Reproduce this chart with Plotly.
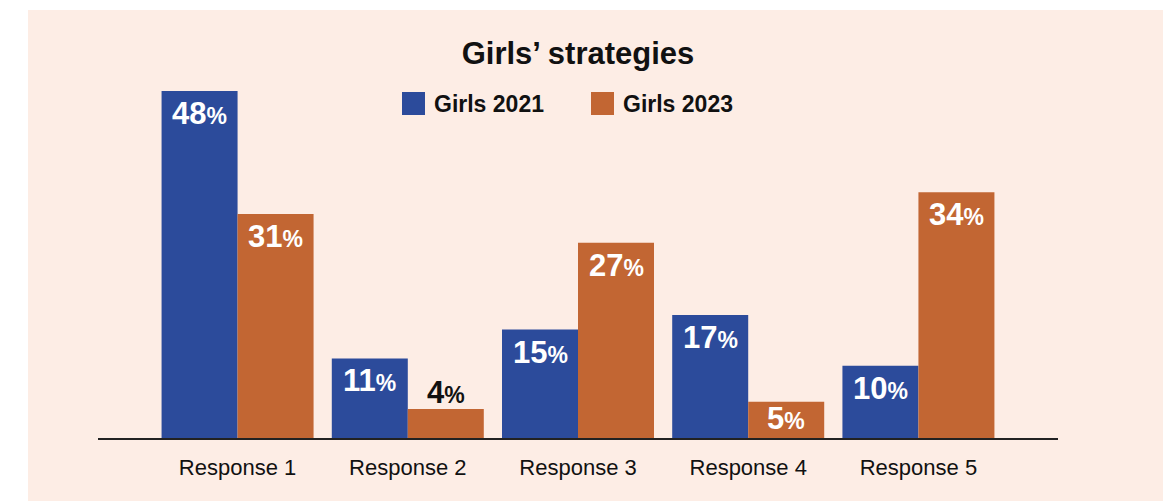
import plotly.graph_objects as go

categories = ["Response 1", "Response 2", "Response 3", "Response 4", "Response 5"]
girls_2021 = [48, 11, 15, 17, 10]
girls_2023 = [31, 4, 27, 5, 34]
series_names = ["Girls 2021", "Girls 2023"]
title_text = "Girls’ strategies"

BLUE = "#2c4b9b"
ORANGE = "#c26633"
PEACH = "#fdede5"
FONT = "Liberation Sans, Arial"

OFF = 8  # page body margin
W, H = 1172 - OFF, 501 - OFF
ML, MR, MT, MB = 98 - OFF, 114, 91 - OFF, 63
XR = [-0.82, 4.82]
YMAX = 48
BARGAP = 0.107
plot_w = W - ML - MR
ph = H - MT - MB
cat_px = plot_w / (XR[1] - XR[0])
bar_px = cat_px * (1 - BARGAP) / 2
unit_px = ph / YMAX


def px_x(px):
    return (px - OFF - ML) / plot_w


def px_y(py):
    return (H - MB - (py - OFF)) / ph


fig = go.Figure()
for name, vals, col in zip(series_names, [girls_2021, girls_2023], [BLUE, ORANGE]):
    fig.add_trace(go.Bar(x=categories, y=vals, name=name, marker=dict(color=col, line=dict(width=0)),
                         showlegend=False))

annotations = []
for si, vals in enumerate([girls_2021, girls_2023]):
    shift = (-0.5 if si == 0 else 0.5) * bar_px
    for c, v in zip(categories, vals):
        txt = f"<b>{v}<span style='font-size:23px'>%</span></b>"
        hpx = v * unit_px
        if hpx >= 60:
            annotations.append(dict(x=c, y=v, xref="x", yref="y", text=txt, showarrow=False,
                                    xshift=shift, yanchor="top", yshift=-3,
                                    font=dict(size=31, color="white", family=FONT)))
        elif hpx >= 32:
            annotations.append(dict(x=c, y=v / 2, xref="x", yref="y", text=txt, showarrow=False,
                                    xshift=shift, yanchor="middle", yshift=1,
                                    font=dict(size=31, color="white", family=FONT)))
        else:
            annotations.append(dict(x=c, y=v, xref="x", yref="y", text=txt, showarrow=False,
                                    xshift=shift, yanchor="bottom", yshift=-3,
                                    font=dict(size=31, color="#111", family=FONT)))

shapes = [dict(type="rect", xref="paper", yref="paper",
               x0=px_x(28), x1=px_x(1163), y0=px_y(520), y1=px_y(10),
               fillcolor=PEACH, line=dict(width=0), layer="below")]
leg_items = [(series_names[0], BLUE, 402), (series_names[1], ORANGE, 591)]
for name, col, px in leg_items:
    shapes.append(dict(type="rect", xref="paper", yref="paper",
                       x0=px_x(px), x1=px_x(px + 23), y0=px_y(115), y1=px_y(92),
                       fillcolor=col, line=dict(width=0)))
    annotations.append(dict(x=px_x(px + 30), y=px_y(104), xref="paper", yref="paper",
                            text=f"<b>{name}</b>", showarrow=False, xanchor="left", yanchor="middle",
                            font=dict(size=23, color="#111", family=FONT)))

fig.update_layout(
    width=W, height=H,
    margin=dict(l=ML, r=MR, t=MT, b=MB, pad=0),
    paper_bgcolor="white", plot_bgcolor="rgba(0,0,0,0)",
    barmode="group", bargap=BARGAP, bargroupgap=0,
    title=dict(text=f"<b>{title_text}</b>", x=(578 - OFF) / W, xanchor="center",
               y=1 - (53 - OFF) / H, yanchor="middle",
               font=dict(size=31, color="#111", family=FONT)),
    xaxis=dict(range=XR, showline=True, linecolor="#222", linewidth=1.5, ticks="", showgrid=False,
               tickfont=dict(size=22, color="#111", family=FONT), ticklabelstandoff=9),
    yaxis=dict(range=[0, YMAX], visible=False, showgrid=False, zeroline=False),
    shapes=shapes, annotations=annotations,
)
fig.write_html("out.html")
